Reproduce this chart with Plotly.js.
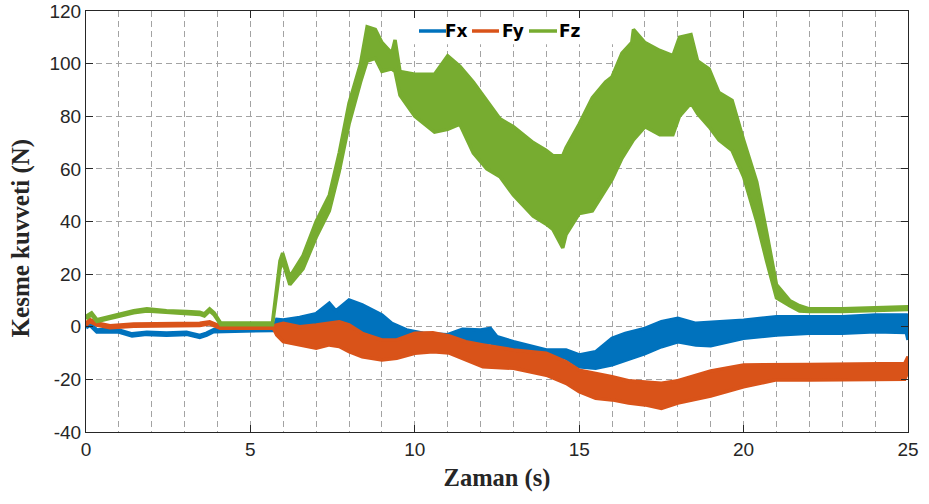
<!DOCTYPE html>
<html>
<head>
<meta charset="utf-8">
<script src="https://cdn.plot.ly/plotly-3.0.1.min.js"></script>
<style>html,body{margin:0;padding:0;background:#fff;}#chart{width:929px;height:504px;}</style>
</head>
<body>
<div id="chart"></div>
<script>
// Fx (blue) band: time, lower envelope, upper envelope
const fxT  = [0,0.12,0.33,0.63,0.73,1.0,1.4,1.85,2.45,3.06,3.46,3.67,3.88,4.08,5.7,5.8,6.0,6.5,7.0,7.4,7.6,8.0,8.4,9.0,9.3,9.75,10.25,11.0,11.45,12.0,12.3,12.5,13.0,14.0,14.6,15.0,15.5,16.0,16.4,17.0,17.5,18.0,18.55,19.0,20.0,21.0,22.0,23.0,24.0,24.95,25.0];
const fxLo = [-0.4,0.6,-2,-1.7,-2,-2,-3.5,-2.9,-3.2,-2.9,-4.1,-3.2,-1.9,-1.6,-1.4,-1.2,-1.2,-1,-1,-1,-1,-1.5,-2,-4,-5,-4,-5,-5,-5,-6.2,-6.2,-6.5,-8,-10,-12,-15.2,-15.8,-14.5,-12.6,-10.2,-7.6,-5.7,-6.9,-7.2,-4.4,-3.1,-2.5,-2.5,-1.9,-2.2,-5];
const fxHi = [0.4,1.4,-1.2,-0.9,-1.2,-1.2,-2.7,-2.1,-2.4,-2.1,-3.3,-2.4,-1.1,-0.8,-0.6,2.8,2.6,3.5,5,9,6,10.2,8.3,4.5,1.3,-1.2,-2.5,-3,-1,-1.2,-0.6,-3.8,-5.7,-8.8,-8.8,-10.7,-9.5,-4.4,-2.5,-0.6,1.9,3.2,1.3,1.7,2.5,3.8,3.8,3.8,4.5,4.5,2];

// Fy (orange) band
const fyT  = [0,0.12,0.33,0.73,1.45,3.46,3.76,4.08,5.7,5.8,6.0,6.5,7.0,7.4,7.7,8.0,8.4,9.0,9.45,10.0,10.55,11.05,11.55,12.07,13.0,14.0,14.6,15.0,15.5,16.0,16.5,17.0,17.5,18.0,19.0,20.0,21.0,22.0,24.9,25.0];
const fyLo = [0.6,1.9,0.6,-0.4,0.2,0.5,1.1,-0.6,-0.6,-3.1,-5.7,-6.9,-8.2,-6.9,-7.5,-9.5,-11.4,-12.6,-12,-10.1,-9.5,-10,-12.6,-15.2,-15.8,-18.4,-21.5,-24.7,-27.2,-27.8,-29,-29.7,-31,-29,-26.3,-22.8,-20.2,-20.2,-20,-17];
const fyHi = [1.4,2.7,1.4,0.4,1.0,1.3,1.9,0.2,0.2,0.7,1.3,0,0.7,1.3,1.9,0.7,-2.5,-5,-5,-2.5,-2.3,-3.5,-5.7,-6.9,-8.8,-10.1,-13.3,-16.5,-17.7,-19,-20.5,-21,-21.5,-20.5,-16.8,-14.5,-14.5,-14.3,-14,-11.4];

// Fz (green) band
const fzT  = [0,0.17,0.33,0.63,1.0,1.45,1.85,2.45,3.06,3.46,3.6,3.76,3.9,4.1,5.67,5.77,5.9,5.98,6.2,6.6,7.0,7.4,7.7,8.0,8.35,8.55,8.8,9.0,9.3,9.4,9.55,10.0,10.6,11.0,11.37,11.78,12.19,12.59,13.0,13.6,14.0,14.2,14.5,14.6,15.0,15.4,15.8,16.0,16.3,16.6,16.65,17.0,17.45,17.85,18.05,18.4,18.6,18.95,19.25,19.65,20.0,20.4,20.7,21.0,21.4,21.7,22.0,23.0,24.0,25.0];
const fzLo = [3,4.5,2,2.8,4,5.3,6,5.3,5,4.7,4.1,6,4.5,0.8,0.8,9,22,25,16,22,34,44,59,77,93,101,102,97,98,97,88,80,74,75,77,66,60,57,50,42,39,37,30,35,43,44,52,56,64,70,71,76,73,73,80,85,81,76,71,67,57,40,25,11,8,6,5.8,5.8,6.2,6.6];
const fzHi = [4,5.3,2.7,3.6,5,6.1,6.8,6.1,5.8,5.5,4.9,6.8,5.3,1.4,1.4,11,25,28,19,27,40,50,66,85,100,114,113,108,104,109,97,96,96,103,99,93,86,79,76,70,67,65,65,68,77,87,93,95,104,108,113,108,105,103,110,111,101,98,89,86,71,55,36,16,10,8,6.8,6.8,7.2,7.6];

const seriesNames = ['Fx','Fy','Fz'];
const seriesColors = ['#0072BD','#D95319','#77AC30'];
const yTickVals = [-40,-20,0,20,40,60,80,100,120];
const yTickText = ['-40','-20','0','20','40','60','80','100','120'];
const xTickVals = [0,5,10,15,20,25];
const xTickText = ['0','5','10','15','20','25'];
const xTitle = 'Zaman (s)';
const yTitle = 'Kesme kuvveti (N)';

function band(t, lo, hi, color) {
  const x = t.concat(t.slice().reverse());
  const y = hi.concat(lo.slice().reverse());
  return {x: x, y: y, type: 'scatter', mode: 'lines', fill: 'toself',
          fillcolor: color, line: {color: color, width: 3.5, shape: 'linear'},
          showlegend: false, hoverinfo: 'skip'};
}

const traces = [
  band(fxT, fxLo, fxHi, seriesColors[0]),
  band(fyT, fyLo, fyHi, seriesColors[1]),
  band(fzT, fzLo, fzHi, seriesColors[2])
];

// custom legend (MATLAB style: short line, name right after it)
const legLineX = [[0.4051, 0.4380], [0.4696, 0.5024], [0.5389, 0.5730]];
const legTextX = [0.4345, 0.5035, 0.5725];
const legY = 0.9525;
const shapes = [{type: 'rect', xref: 'paper', yref: 'paper', x0: 0.394, x1: 0.6436, y0: 0.921, y1: 0.981,
                 fillcolor: '#ffffff', line: {width: 0}, layer: 'above'}];
const annotations = [];
for (let i = 0; i < 3; i++) {
  shapes.push({type: 'line', xref: 'paper', yref: 'paper', x0: legLineX[i][0], x1: legLineX[i][1],
               y0: legY, y1: legY, line: {color: seriesColors[i], width: 3.5}, layer: 'above'});
  annotations.push({text: seriesNames[i], xref: 'paper', yref: 'paper', x: legTextX[i], y: legY,
                    xanchor: 'left', yanchor: 'middle', showarrow: false,
                    font: {family: 'DejaVu Sans, sans-serif', size: 17, color: '#000', weight: 'bold'}});
}
annotations.push({text: yTitle, textangle: -90, xref: 'paper', yref: 'paper',
                  x: -0.078, y: 0.462, xanchor: 'center', yanchor: 'middle', showarrow: false,
                  font: {family: 'Liberation Serif, Times New Roman, serif', size: 25, color: '#262626', weight: 'bold'}});

const gridC = '#a3a3a3';
const axisC = '#262626';
const layout = {
  width: 929, height: 504,
  margin: {l: 86, r: 21, t: 11, b: 72},
  paper_bgcolor: '#fff', plot_bgcolor: '#fff',
  showlegend: false,
  xaxis: {range: [0, 25], tickvals: xTickVals, ticktext: xTickText,
          showline: true, linecolor: axisC, linewidth: 1, mirror: 'ticks',
          ticks: 'inside', ticklen: 7, tickcolor: axisC,
          showgrid: true, gridcolor: gridC, griddash: '6px,4px', gridwidth: 1,
          minor: {dtick: 1, showgrid: true, gridcolor: gridC, griddash: '6px,4px', gridwidth: 1, ticks: ''},
          zeroline: false,
          tickfont: {family: 'Liberation Sans, Arial, sans-serif', size: 19, color: axisC},
          title: {text: xTitle, standoff: 10,
                  font: {family: 'Liberation Serif, Times New Roman, serif', size: 24.5, color: axisC, weight: 'bold'}}},
  yaxis: {range: [-40, 120], tickvals: yTickVals, ticktext: yTickText,
          showline: true, linecolor: axisC, linewidth: 1, mirror: 'ticks',
          ticks: 'inside', ticklen: 7, tickcolor: axisC,
          showgrid: true, gridcolor: gridC, griddash: '6px,4px', gridwidth: 1,
          zeroline: false,
          tickfont: {family: 'Liberation Sans, Arial, sans-serif', size: 19, color: axisC}},
  shapes: shapes,
  annotations: annotations
};

Plotly.newPlot('chart', traces, layout, {displayModeBar: false, staticPlot: true});
</script>
</body>
</html>
